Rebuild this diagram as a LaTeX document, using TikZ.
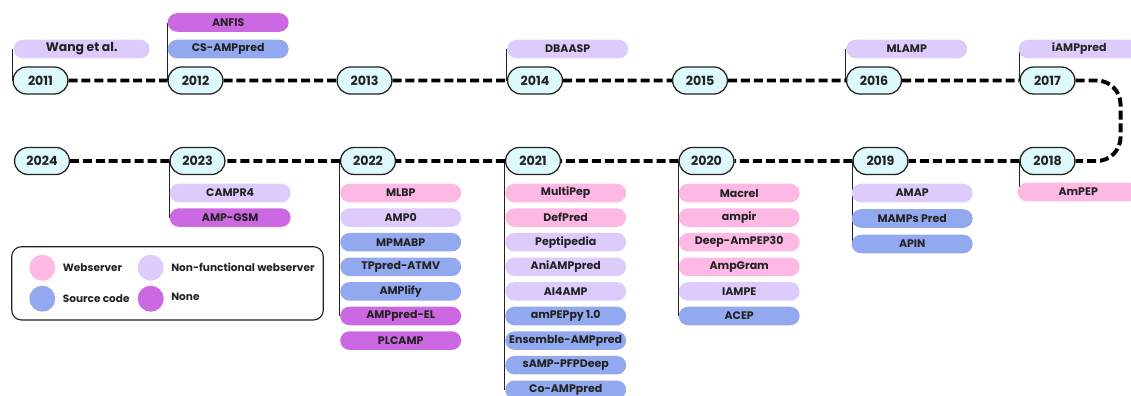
\documentclass[tikz,border=0pt]{standalone}
\usepackage{fontspec}
\setmainfont{Poppins}
\usetikzlibrary{shapes.misc,calc,backgrounds,positioning}

\definecolor{webserver}{HTML}{FDB8E3}
\definecolor{nonfunctional}{HTML}{DDCBFC}
\definecolor{sourcecode}{HTML}{93A9EF}
\definecolor{nocode}{HTML}{CC68E1}
\definecolor{yearfill}{HTML}{DEF9FC}
\definecolor{ink}{HTML}{222222}

\begin{document}
\begin{tikzpicture}[x=0.025cm, y=-0.025cm,
    year/.style={rounded rectangle, draw=ink, line width=0.9pt, fill=yearfill,
        minimum width=39pt, minimum height=19.2pt, inner sep=0pt,
        font=\fontsize{9}{10}\selectfont\bfseries, text=ink},
    tool/.style={rounded rectangle, fill=#1, minimum width=86pt, minimum height=13.2pt,
        inner sep=0pt, anchor=west, font=\fontsize{7.8}{9}\selectfont\bfseries, text=ink},
    timeline/.style={line width=2.8pt, dash pattern=on 6.4pt off 2.8pt},
    stem/.style={ink, line width=0.7pt},
    keydot/.style={circle, minimum size=18.5pt, inner sep=0pt},
    keytext/.style={inner sep=0pt, anchor=west, font=\fontsize{7.5}{9}\selectfont\bfseries, text=ink}]

    % Frame of the picture
    \def\picw{1131}
    \def\pich{395}
    \def\rowa{80.5}
    \def\rowb{161}
    \def\upstep{26.5}
    \def\downstep{24.6}
    \useasboundingbox (0,0) rectangle (\picw,\pich);
    \clip (0,0) rectangle (\picw,\pich);

    % Years, upper row
    \foreach \yr/\xc in {2011/40.5,2012/195.5,2013/364.5,2014/535,2015/700,2016/874,2017/1047.5}
        \node[year] (y\yr) at (\xc,\rowa) {\yr};

    % Years, lower row
    \foreach \yr/\xc in {2024/42,2023/197.5,2022/368,2021/533,2020/706.5,2019/880.5,2018/1047.5}
        \node[year] (y\yr) at (\xc,\rowb) {\yr};

    % Dashed time line
    \foreach \a/\b in {2011/2012,2012/2013,2013/2014,2014/2015,2015/2016,2016/2017,
                       2018/2019,2019/2020,2020/2021,2021/2022,2022/2023,2023/2024}
        \draw[timeline] (y\a) -- (y\b);
    \draw[timeline, rounded corners=17pt] (y2017.east) -- ++(45,0) |- (y2018.east);

    % Tools above the upper row
    \node[tool=nonfunctional, minimum width=96.7pt, font=\fontsize{8.8}{10}\selectfont\bfseries]
        (t2011-1) at ($(y2011.west)+(1,-31.5)$) {Wang et al.};
    \foreach \name/\kind [count=\i] in {CS-AMPpred/sourcecode,ANFIS/nocode}
        \node[tool=\kind] (t2012-\i) at ($(y2012.west)+(0,{-31.5-(\i-1)*\upstep})$) {\name};
    \node[tool=nonfunctional] (t2014-1) at ($(y2014.west)+(0,-31.5)$) {DBAASP};
    \node[tool=nonfunctional] (t2016-1) at ($(y2016.west)+(0,-31.5)$) {MLAMP};
    \node[tool=nonfunctional] (t2017-1) at ($(y2017.west)+(-1,-31.5)$) {iAMPpred};

    % Tools below the lower row
    \node[tool=webserver] (t2018-1) at ($(y2018.west)+(-2,31)$) {AmPEP};
    \foreach \name/\kind [count=\i] in {AMAP/nonfunctional,MAMPs Pred/sourcecode,APIN/sourcecode}
        \node[tool=\kind] (t2019-\i) at ($(y2019.west)+(-1,{32+(\i-1)*25.5})$) {\name};
    \foreach \name/\kind [count=\i] in {Macrel/webserver,ampir/webserver,Deep-AmPEP30/webserver,
                                        AmpGram/webserver,IAMPE/nonfunctional,ACEP/sourcecode}
        \node[tool=\kind] (t2020-\i) at ($(y2020.west)+(0,{32+(\i-1)*\downstep})$) {\name};
    \foreach \name/\kind [count=\i] in {MultiPep/webserver,DefPred/webserver,Peptipedia/nonfunctional,
                                        AniAMPpred/nonfunctional,AI4AMP/nonfunctional,amPEPpy 1.0/sourcecode,
                                        Ensemble-AMPpred/sourcecode,sAMP-PFPDeep/sourcecode,Co-AMPpred/sourcecode}
        \node[tool=\kind] (t2021-\i) at ($(y2021.west)+(0,{32+(\i-1)*\downstep})$) {\name};
    \foreach \name/\kind [count=\i] in {MLBP/webserver,AMP0/nonfunctional,MPMABP/sourcecode,
                                        TPpred-ATMV/sourcecode,AMPlify/sourcecode,AMPpred-EL/nocode,PLCAMP/nocode}
        \node[tool=\kind] (t2022-\i) at ($(y2022.west)+(0,{32+(\i-1)*\downstep})$) {\name};
    \foreach \name/\kind [count=\i] in {CAMPR4/nonfunctional,AMP-GSM/nocode}
        \node[tool=\kind] (t2023-\i) at ($(y2023.west)+(0,{32+(\i-1)*\downstep})$) {\name};

    % Stems from the years to their tools
    \begin{scope}[on background layer]
        \foreach \yr/\last in {2011/1,2012/2,2014/1,2016/1,2017/1,2018/1,2019/3,2020/6,2021/9,2022/6,2023/2}
            \draw[stem] (y\yr.west) -- (y\yr.west |- t\yr-\last.west);
    \end{scope}

    % Legend
    \draw[ink, line width=0.8pt, rounded corners=7pt] (11.7,246.7) rectangle (323.3,320);
    \node[keydot, fill=webserver] (kweb) at (42.3,267.7) {};
    \node[keydot, fill=sourcecode] (ksrc) at (42.3,298.7) {};
    \node[keydot, fill=nonfunctional] (knon) at (150.7,267.7) {};
    \node[keydot, fill=nocode] (knone) at (150.7,298.7) {};
    \node[keytext, right=5pt of kweb] (lweb) {Webserver};
    \node[keytext, right=5pt of ksrc] (lsrc) {Source code};
    \node[keytext, right=5pt of knon] (lnon) {Non-functional webserver};
    \node[keytext, right=5pt of knone, yshift=1pt] (lnone) {None};

\end{tikzpicture}
\end{document}
